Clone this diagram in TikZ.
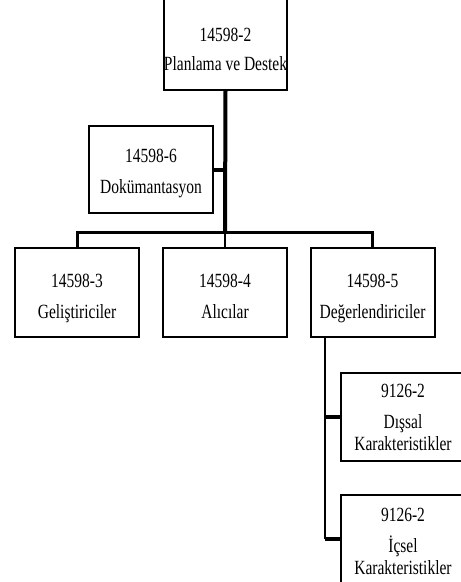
\documentclass[tikz,border=0pt]{standalone}
\usepackage{fontspec}
\setmainfont{Liberation Serif}
\newcommand{\tallt}[1]{\scalebox{1}[1.3]{#1}}
\begin{document}
\begin{tikzpicture}[x=1pt,y=-1pt,
  box/.style={draw,line width=2pt,rectangle,inner sep=0pt,minimum width=124pt},
  lbl/.style={font=\fontsize{15.5}{15.5}\selectfont,anchor=base,inner sep=0pt},
  thickline/.style={line width=4pt},
  midline/.style={line width=3pt},
  thinline/.style={line width=2.5pt}]
\useasboundingbox (0,0) rectangle (461,582);
\clip (0,0) rectangle (461,582);
\fill[white] (0,0) rectangle (461,582);
% boxes
\node[box,minimum width=123pt,minimum height=110pt] (top) at (225.5,35) {};
\node[box,minimum height=87pt] (doc) at (151,169.5) {};
\node[box,minimum height=89pt] (b1) at (77,292.5) {};
\node[box,minimum height=89pt] (b2) at (225,292.5) {};
\node[box,minimum height=89pt] (b3) at (372.5,292.5) {};
\node[box,minimum height=88pt] (r1) at (403,417) {};
\node[box,minimum height=88pt] (r2) at (403,539) {};
% texts
\node[lbl] (ta1) at (225.5,41) {\tallt{14598-2}};
\node[lbl] (ta2) at (225.5,70) {\tallt{Planlama ve Destek}};
\node[lbl] (td1) at (151,162) {\tallt{14598-6}};
\node[lbl] (td2) at (151,193) {\tallt{Dokümantasyon}};
\node[lbl] (t11) at (77,287) {\tallt{14598-3}};
\node[lbl] (t12) at (77,318) {\tallt{Geliştiriciler}};
\node[lbl] (t21) at (225,287) {\tallt{14598-4}};
\node[lbl] (t22) at (225,318) {\tallt{Alıcılar}};
\node[lbl] (t31) at (372.5,287) {\tallt{14598-5}};
\node[lbl] (t32) at (372.5,318) {\tallt{Değerlendiriciler}};
\node[lbl] (tr11) at (403,397) {\tallt{9126-2}};
\node[lbl] (tr12) at (403,428) {\tallt{Dışsal}};
\node[lbl] (tr13) at (403,450) {\tallt{Karakteristikler}};
\node[lbl] (tr21) at (403,521) {\tallt{9126-2}};
\node[lbl] (tr22) at (403,552) {\tallt{İçsel}};
\node[lbl] (tr23) at (403,574) {\tallt{Karakteristikler}};
% connectors
\coordinate (j) at (225,232);
\coordinate (v) at (325,337);
\draw[thickline] (top.south) -- (j);
\draw[thickline] (doc.east) -- (doc.east -| j);
\draw[midline] (b1.north) -- (b1.north |- j) -- (b3.north |- j) -- (b3.north);
\draw[thinline] (j) -- (b2.north);
\draw[thinline] (b3.south -| v) -- (r2.west -| v);
\draw[thickline] (r1.west -| v) -- (r1.west);
\draw[thickline] (r2.west -| v) -- (r2.west);
\end{tikzpicture}
\end{document}
